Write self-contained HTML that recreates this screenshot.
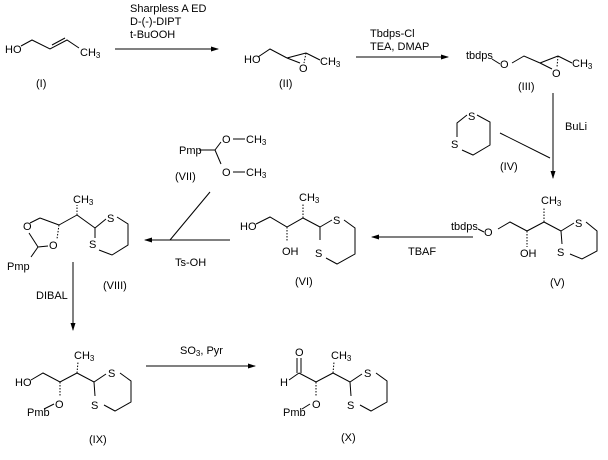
<!DOCTYPE html>
<html><head><meta charset="utf-8"><style>
html,body{margin:0;padding:0;background:#fff;width:608px;height:460px;overflow:hidden}
svg{display:block}
text{font-family:"Liberation Sans",sans-serif;font-size:11px;fill:#000}
.s{font-size:8px}
</style></head><body>
<svg width="608" height="460" viewBox="0 0 608 460" xmlns="http://www.w3.org/2000/svg">
<defs><marker id="a" markerWidth="8" markerHeight="6" refX="7" refY="3" orient="auto" markerUnits="userSpaceOnUse"><path d="M0,0.5 L8,3 L0,5.5 Z" fill="#000"/></marker></defs>
<g stroke="#000" stroke-width="1" fill="none">
<!-- I -->
<polyline points="21,46 32,40 50,49 67,40 79,48"/>
<line x1="52" y1="45" x2="65" y2="38"/>
<line x1="115" y1="49" x2="218" y2="49" marker-end="url(#a)"/>
<!-- II -->
<polyline points="258,57 270,49 287,58"/>
<line x1="287" y1="58" x2="306" y2="53"/>
<line x1="306" y1="53" x2="320" y2="60"/>
<line x1="287" y1="58" x2="300" y2="63"/>
<line x1="306" y1="53" x2="304" y2="63" stroke-dasharray="1.5,1.5"/>
<line x1="356" y1="57" x2="448" y2="57" marker-end="url(#a)"/>
<!-- III -->
<line x1="492" y1="59" x2="500" y2="64"/>
<polyline points="512,63 524,56 540,63"/>
<line x1="540" y1="63" x2="558" y2="56"/>
<line x1="558" y1="56" x2="572" y2="63"/>
<line x1="540" y1="63" x2="552" y2="69"/>
<line x1="558" y1="56" x2="557" y2="67" stroke-dasharray="1.5,1.5"/>
<line x1="553" y1="93" x2="553" y2="178" marker-end="url(#a)"/>
<!-- IV ring -->
<polyline points="477,115 490,122 490,145 473,155 462,150"/>
<polyline points="457,137 457,123 467,115"/>
<line x1="500" y1="133" x2="550" y2="158"/>
<!-- V -->
<line x1="478" y1="229" x2="484" y2="232"/>
<polyline points="498,229 510,222 527,231 544,222 561,231"/>
<line x1="544" y1="222" x2="544" y2="208" stroke-dasharray="1.5,1.5"/>
<line x1="527" y1="231" x2="527" y2="247" stroke-dasharray="1.5,1.5"/>
<polyline points="561,231 574,223"/>
<polyline points="561,231 562,244"/>
<polyline points="586,222 597,231 597,251 582,259 570,254"/>
<line x1="473" y1="237" x2="372" y2="237" marker-end="url(#a)"/>
<!-- VI -->
<polyline points="256,224 270,217 287,227 303,218 320,227"/>
<line x1="303" y1="218" x2="303" y2="204" stroke-dasharray="1.5,1.5"/>
<line x1="287" y1="227" x2="287" y2="241" stroke-dasharray="1.5,1.5"/>
<line x1="320" y1="227" x2="332" y2="220"/>
<line x1="320" y1="227" x2="320" y2="240"/>
<polyline points="344,220 355,228 355,254 337,264 326,258"/>
<line x1="230" y1="240" x2="145" y2="240" marker-end="url(#a)"/>
<line x1="210" y1="192" x2="170" y2="240"/>
<!-- VII -->
<line x1="199" y1="150" x2="215" y2="150"/>
<line x1="215" y1="150" x2="221" y2="142"/>
<line x1="215" y1="150" x2="221" y2="164"/>
<line x1="233" y1="139" x2="245" y2="139"/>
<line x1="233" y1="172" x2="245" y2="172"/>
<!-- VIII -->
<line x1="30" y1="223" x2="40" y2="218"/>
<line x1="40" y1="218" x2="59" y2="225"/>
<line x1="59" y1="225" x2="57" y2="239" stroke-dasharray="1.5,1.5"/>
<line x1="48" y1="246" x2="38" y2="247"/>
<line x1="38" y1="247" x2="29" y2="233"/>
<line x1="38" y1="247" x2="31" y2="257"/>
<line x1="59" y1="225" x2="77" y2="215"/>
<line x1="77" y1="215" x2="77" y2="205" stroke-dasharray="1.5,1.5"/>
<line x1="77" y1="215" x2="95" y2="228"/>
<line x1="95" y1="228" x2="106" y2="219"/>
<line x1="95" y1="228" x2="95" y2="238"/>
<polyline points="117,217 128,224 128,245 112,255 99,250"/>
<line x1="73" y1="262" x2="73" y2="330" marker-end="url(#a)"/>
<!-- IX -->
<polyline points="31,380 43,373 60,382 77,373 94,382"/>
<line x1="77" y1="373" x2="78" y2="362" stroke-dasharray="1.5,1.5"/>
<line x1="60" y1="382" x2="60" y2="396" stroke-dasharray="1.5,1.5"/>
<line x1="44" y1="409" x2="54" y2="404"/>
<line x1="94" y1="382" x2="106" y2="374"/>
<line x1="94" y1="382" x2="95" y2="396"/>
<polyline points="120,373 131,381 131,402 115,411 104,405"/>
<line x1="146" y1="366" x2="255" y2="366" marker-end="url(#a)"/>
<!-- X -->
<line x1="297" y1="358" x2="297" y2="373"/>
<line x1="301" y1="358" x2="301" y2="373"/>
<line x1="289" y1="380" x2="299" y2="373"/>
<polyline points="299,373 316,382 333,373 350,382"/>
<line x1="333" y1="373" x2="334" y2="362" stroke-dasharray="1.5,1.5"/>
<line x1="316" y1="382" x2="316" y2="396" stroke-dasharray="1.5,1.5"/>
<line x1="302" y1="409" x2="310" y2="404"/>
<line x1="350" y1="382" x2="362" y2="374"/>
<line x1="350" y1="382" x2="351" y2="396"/>
<polyline points="376,373 387,381 387,402 371,411 360,405"/>
</g>
<text x="5" y="53">HO</text>
<text x="80" y="56">CH<tspan class="s" dy="2">3</tspan></text>
<text x="36" y="87">(I)</text>
<text x="130" y="12">Sharpless A ED</text>
<text x="130" y="25">D-(-)-DIPT</text>
<text x="130" y="38">t-BuOOH</text>
<text x="244" y="63">HO</text>
<text x="320" y="65">CH<tspan class="s" dy="2">3</tspan></text>
<text x="299" y="72">O</text>
<text x="279" y="87">(II)</text>
<text x="370" y="37">Tbdps-Cl</text>
<text x="370" y="50">TEA, DMAP</text>
<text x="466" y="59">tbdps</text>
<text x="500" y="68">O</text>
<text x="572" y="67">CH<tspan class="s" dy="2">3</tspan></text>
<text x="552" y="77">O</text>
<text x="518" y="90">(III)</text>
<text x="565" y="130">BuLi</text>
<text x="468" y="120">S</text>
<text x="451" y="148">S</text>
<text x="500" y="170">(IV)</text>
<text x="451" y="230">tbdps</text>
<text x="484" y="236">O</text>
<text x="541" y="204">CH<tspan class="s" dy="2">3</tspan></text>
<text x="520" y="257">OH</text>
<text x="575" y="227">S</text>
<text x="557" y="256">S</text>
<text x="550" y="286">(V)</text>
<text x="408" y="255">TBAF</text>
<text x="240" y="230">HO</text>
<text x="282" y="255">OH</text>
<text x="299" y="201">CH<tspan class="s" dy="2">3</tspan></text>
<text x="333" y="224">S</text>
<text x="315" y="257">S</text>
<text x="295" y="285">(VI)</text>
<text x="179" y="154">Pmp</text>
<text x="222" y="143">O</text>
<text x="246" y="143">CH<tspan class="s" dy="2">3</tspan></text>
<text x="222" y="176">O</text>
<text x="246" y="176">CH<tspan class="s" dy="2">3</tspan></text>
<text x="175" y="180">(VII)</text>
<text x="175" y="266">Ts-OH</text>
<text x="73" y="203">CH<tspan class="s" dy="2">3</tspan></text>
<text x="23" y="230">O</text>
<text x="49" y="249">O</text>
<text x="7" y="270">Pmp</text>
<text x="107" y="222">S</text>
<text x="89" y="248">S</text>
<text x="103" y="289">(VIII)</text>
<text x="36" y="299">DIBAL</text>
<text x="74" y="359">CH<tspan class="s" dy="2">3</tspan></text>
<text x="15" y="386">HO</text>
<text x="55" y="408">O</text>
<text x="27" y="416">Pmb</text>
<text x="108" y="377">S</text>
<text x="91" y="409">S</text>
<text x="89" y="443">(IX)</text>
<text x="180" y="354">SO<tspan class="s" dy="2">3</tspan><tspan dy="-2">, Pyr</tspan></text>
<text x="295" y="356">O</text>
<text x="280" y="386">H</text>
<text x="331" y="359">CH<tspan class="s" dy="2">3</tspan></text>
<text x="312" y="408">O</text>
<text x="283" y="416">Pmb</text>
<text x="364" y="377">S</text>
<text x="347" y="409">S</text>
<text x="341" y="441">(X)</text>
</svg>
</body></html>
